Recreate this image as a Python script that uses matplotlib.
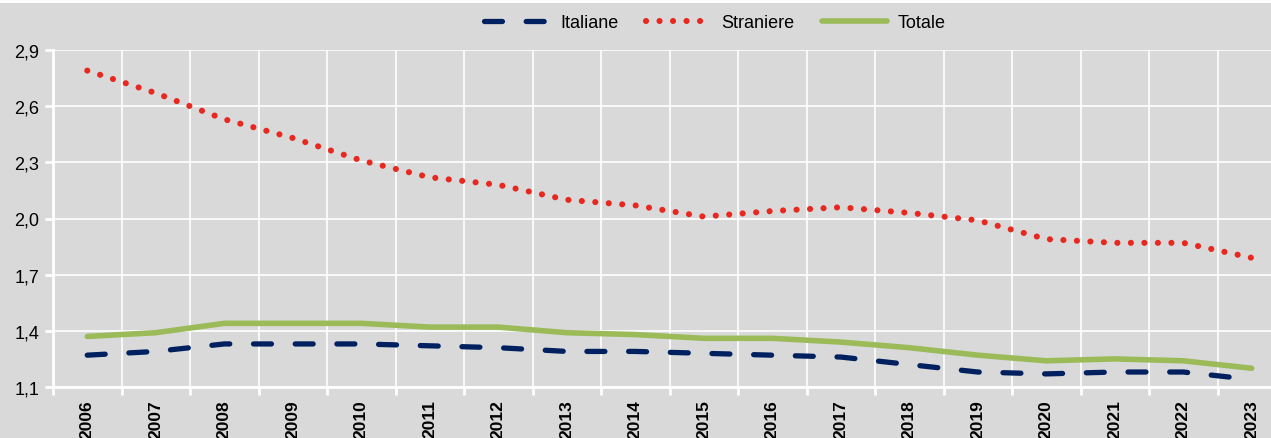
import matplotlib
matplotlib.use('Agg')
import matplotlib.pyplot as plt
from matplotlib.lines import Line2D
from matplotlib.ticker import FuncFormatter

plt.rcParams['font.family'] = ['Liberation Sans', 'DejaVu Sans']

anni = [str(a) for a in range(2006, 2024)]
italiane = [1.27, 1.29, 1.33, 1.33, 1.33, 1.32, 1.31, 1.29, 1.29, 1.28,
            1.27, 1.26, 1.22, 1.18, 1.17, 1.18, 1.18, 1.14]
straniere = [2.79, 2.67, 2.53, 2.43, 2.31, 2.22, 2.18, 2.10, 2.07, 2.01,
             2.04, 2.06, 2.03, 1.99, 1.89, 1.87, 1.87, 1.79]
totale = [1.37, 1.39, 1.44, 1.44, 1.44, 1.42, 1.42, 1.39, 1.38, 1.36,
          1.36, 1.34, 1.31, 1.27, 1.24, 1.25, 1.24, 1.20]
y_ticks = [1.1, 1.4, 1.7, 2.0, 2.3, 2.6, 2.9]

bg = '#D9D9D9'
fig = plt.figure(figsize=(12.71, 4.39), dpi=100, facecolor=bg)
ax = fig.add_axes([53 / 1271, 51 / 439, 1233 / 1271, 337 / 439])
ax.set_facecolor(bg)

x = list(range(len(anni)))
ax.plot(x, italiane, color='#002060', lw=3.8, linestyle=(0, (3.4, 4.5)),
        dash_capstyle='round', label='Italiane', zorder=3)
ax.plot(x, straniere, color='#E8281E', lw=4.4, linestyle=(0, (0.01, 2.2)),
        dash_capstyle='round', label='Straniere', zorder=3)
ax.plot(x, totale, color='#9BBB59', lw=4, solid_capstyle='round',
        label='Totale', zorder=2)

ax.set_xlim(-0.5, len(anni) - 0.5)
ax.set_ylim(1.1, 2.9)
ax.set_yticks(y_ticks)
ax.yaxis.set_major_formatter(FuncFormatter(lambda v, p: f'{v:.1f}'.replace('.', ',')))
ax.set_xticks(x)
ax.set_xticklabels(anni, rotation=90, fontweight='bold', fontsize=12.5, va='top')
ax.set_xticks([i + 0.5 for i in range(-1, len(anni))], minor=True)
ax.tick_params(axis='x', which='major', length=0, pad=9)
ax.tick_params(axis='x', which='minor', length=6, width=2, color='white')
ax.tick_params(axis='y', length=6, width=2, color='white', labelsize=13, pad=4)

ax.grid(True, axis='y', color='white', lw=1.2)
ax.grid(True, axis='x', which='minor', color='white', lw=1.2)
ax.set_axisbelow(True)
for s in ['top', 'right']:
    ax.spines[s].set_visible(False)
for s in ['left', 'bottom']:
    ax.spines[s].set_color('white')
    ax.spines[s].set_linewidth(2)

leg = fig.legend(loc='center', bbox_to_anchor=(715 / 1271, 1 - 24 / 439), ncol=3,
                 frameon=False, fontsize=13, handlelength=3.6, columnspacing=1.5,
                 handletextpad=0.6)

fig.add_artist(Line2D([0, 1], [1 - 2 / 439, 1 - 2 / 439], color='white', lw=2))

fig.savefig('out.png', dpi=100, facecolor=bg)
